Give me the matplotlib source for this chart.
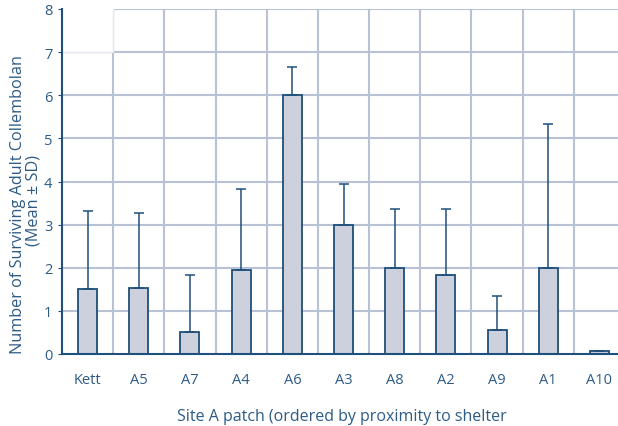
import matplotlib.pyplot as plt
from matplotlib.patches import Rectangle

# donnees
patches = ["Kett", "A5", "A7", "A4", "A6", "A3", "A8", "A2", "A9", "A1", "A10"]
means = [1.51, 1.54, 0.50, 1.95, 6.0, 2.98, 2.0, 1.83, 0.56, 2.0, 0.08]
sd = [1.81, 1.73, 1.34, 1.87, 0.66, 0.96, 1.36, 1.54, 0.79, 3.34, 0.0]

dark = "#1f4f7a"
txt = "#2d5b86"
grid = "#b9c1d5"

plt.rcParams['font.family'] = ['Open Sans', 'DejaVu Sans']

fig = plt.figure(figsize=(6.18, 4.27), dpi=100)
ax = fig.add_axes([62 / 618, 1 - 355 / 427, 563 / 618, 345 / 427])

x = list(range(len(patches)))
ax.bar(x, means, width=0.37, color="#cdd1de", edgecolor=dark, linewidth=1.3, zorder=3)
# barres d'erreur vers le haut seulement
ax.errorbar(x, means, yerr=[[0] * len(sd), sd], fmt="none", ecolor=dark,
            elinewidth=1.1, capsize=3.5, capthick=1.1, zorder=4)

ax.set_xlim(-0.5, len(patches) - 0.5)
ax.set_ylim(0, 8)
ax.set_yticks(range(9))
ax.set_xticks(x)
ax.set_xticklabels(patches)

# grille : lignes entre les categories
for b in range(len(patches)):
    ax.axvline(b + 0.5, color=grid, linewidth=1.5, zorder=1)
for yv in range(1, 9):
    ax.axhline(yv, color=grid, linewidth=1.5, zorder=1)
# coin en haut a gauche plus pale
ax.add_patch(Rectangle((-0.5, 7), 1, 1.2, facecolor="white", edgecolor="#e4e7f0",
                       linewidth=1.0, zorder=2, clip_on=True))

for s in ["top", "right"]:
    ax.spines[s].set_visible(False)
ax.spines["left"].set_color(dark)
ax.spines["bottom"].set_color(dark)
ax.spines["left"].set_linewidth(1.5)
ax.spines["bottom"].set_linewidth(1.5)
ax.spines["left"].set_zorder(5)
ax.spines["bottom"].set_zorder(5)

ax.tick_params(axis="y", colors=dark, labelcolor=txt, labelsize=10.5, length=3, pad=4)
ax.tick_params(axis="x", length=0, labelcolor=txt, labelsize=10.5, pad=13)

fig.text(18 / 618, 1 - 204 / 427, "Number of Surviving Adult Collembolan",
         color=txt, fontsize=11.7, rotation=90, ha="center", va="center")
fig.text(34 / 618, 1 - 201 / 427, "(Mean \u00b1 SD)",
         color=txt, fontsize=11.7, rotation=90, ha="center", va="center")
fig.text(177 / 618, 1 - 417 / 427, "Site A patch (ordered by proximity to shelter",
         color=txt, fontsize=11.5, va="center", ha="left")

fig.savefig("out.png", dpi=100)
